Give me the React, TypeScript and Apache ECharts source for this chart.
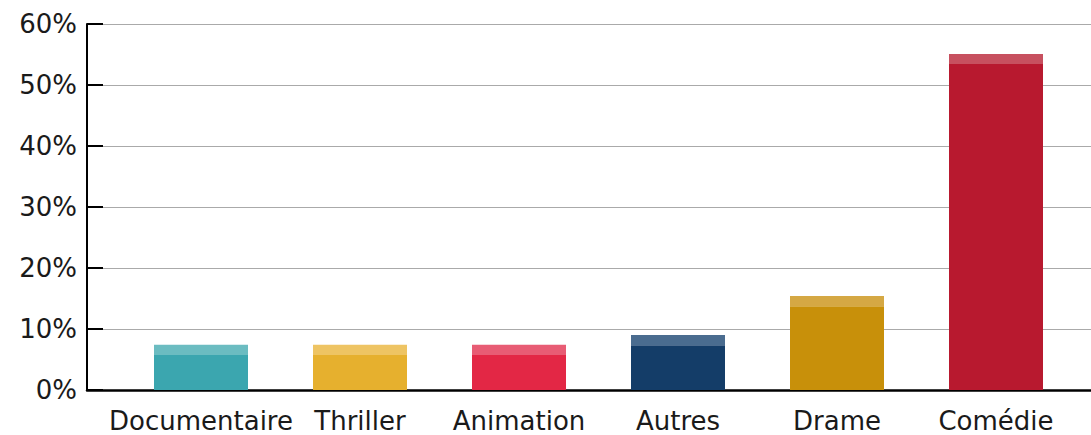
import React, { useEffect, useRef } from "react";
import * as echarts from "echarts";

const categories = ["Documentaire", "Thriller", "Animation", "Autres", "Drame", "Comédie"];
const totals = [7.4, 7.4, 7.4, 9.0, 15.4, 55.1];
const capSize = 1.65;
const yTicks = [0, 10, 20, 30, 40, 50, 60];

const baseColors = ["#3ba6af", "#e6b02e", "#e32745", "#143d68", "#c8900a", "#b8192f"];
const capColors = ["#6bbcc1", "#eec463", "#e85c74", "#4a6c8f", "#d5a844", "#c7505f"];

const FONT = "DejaVu Sans";

export default function App() {
  const ref = useRef<HTMLDivElement>(null);
  useEffect(() => {
    const chart = echarts.init(ref.current!, null, { renderer: "svg" });
    const base = totals.map((v, i) => ({ value: v - capSize, itemStyle: { color: baseColors[i] } }));
    const cap = totals.map((v, i) => ({
      value: capSize,
      itemStyle: { color: capColors[i] },
    }));
    chart.setOption({
      animation: false,
      grid: [
        { left: 87, right: 0, top: 24, bottom: 45, containLabel: false },
        { left: 121.5, right: 15.5, top: 24, bottom: 45, containLabel: false },
      ],
      xAxis: [
        {
          type: "value",
          gridIndex: 0,
          min: 0,
          max: 1,
          axisLine: { show: true, onZero: false, lineStyle: { color: "#000", width: 2.5 } },
          axisTick: { show: false },
          axisLabel: { show: false },
          splitLine: { show: false },
        },
        {
          type: "category",
          gridIndex: 1,
          data: categories,
          axisLine: { show: false },
          axisTick: { show: false },
          axisLabel: { color: "#1a1a1a", fontFamily: FONT, fontSize: 26, margin: 18, interval: 0 },
        },
      ],
      yAxis: [
        {
          type: "value",
          gridIndex: 0,
          min: 0,
          max: 60,
          interval: 10,
          axisLine: { show: true, lineStyle: { color: "#000", width: 2 } },
          axisTick: { show: true, inside: true, length: 16, lineStyle: { color: "#000", width: 2 } },
          axisLabel: {
            color: "#1a1a1a",
            fontFamily: FONT,
            fontSize: 26,
            margin: 10,
            formatter: (v: number) => (yTicks.includes(v) ? v + "%" : ""),
          },
          splitLine: { show: true, lineStyle: { color: "#aaaaaa", width: 1 } },
        },
        {
          type: "value",
          gridIndex: 1,
          min: 0,
          max: 60,
          show: false,
          splitLine: { show: false },
        },
      ],
      series: [
        {
          type: "bar",
          xAxisIndex: 1,
          yAxisIndex: 1,
          stack: "s",
          barWidth: 94,
          data: base,
        },
        {
          type: "bar",
          xAxisIndex: 1,
          yAxisIndex: 1,
          stack: "s",
          barWidth: 94,
          data: cap,
        },
      ],
    });
    return () => chart.dispose();
  }, []);
  return <div ref={ref} style={{ width: 1091, height: 435, position: "absolute", left: 0, top: 0 }} />;
}
